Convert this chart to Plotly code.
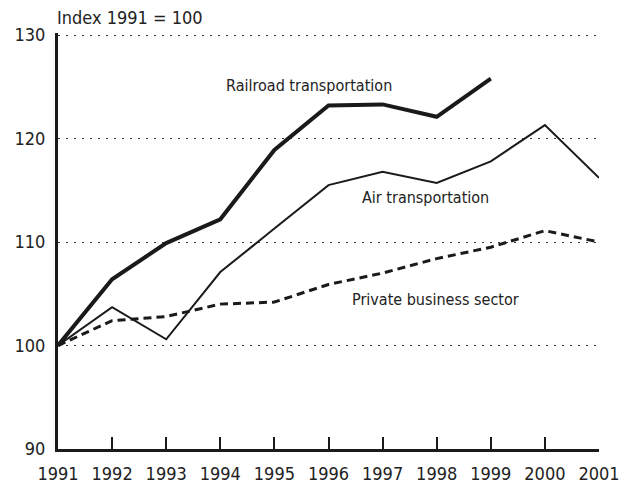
import plotly.graph_objects as go

years = [1991, 1992, 1993, 1994, 1995, 1996, 1997, 1998, 1999, 2000, 2001]
railroad = [100, 106.4, 109.9, 112.2, 118.9, 123.2, 123.3, 122.1, 125.8, None, None]
air = [100, 103.7, 100.6, 107.1, 111.3, 115.5, 116.8, 115.7, 117.8, 121.3, 116.2]
private = [100, 102.4, 102.8, 104.0, 104.2, 105.9, 107.0, 108.4, 109.5, 111.1, 110.0]
y_ticks = [90, 100, 110, 120, 130]

FONT = "DejaVu Sans Condensed, Liberation Sans Narrow, sans-serif"

fig = go.Figure()
fig.add_trace(go.Scatter(x=years, y=private, mode="lines",
                         line=dict(color="#1a1a1a", width=3, dash="8px,5px"),
                         showlegend=False))
fig.add_trace(go.Scatter(x=years, y=air, mode="lines",
                         line=dict(color="#1a1a1a", width=2), showlegend=False))
fig.add_trace(go.Scatter(x=years, y=railroad, mode="lines",
                         line=dict(color="#1a1a1a", width=4), showlegend=False))

ann = dict(showarrow=False, font=dict(family=FONT, size=16, color="#222"))
fig.add_annotation(x=1994.06, y=125.1, xref="x", yref="y", xanchor="left",
                   text="Railroad transportation", **ann)
fig.add_annotation(x=1996.59, y=114.3, xref="x", yref="y", xanchor="left",
                   text="Air transportation", **ann)
fig.add_annotation(x=1996.39, y=104.4, xref="x", yref="y", xanchor="left",
                   text="Private business sector", **ann)
fig.add_annotation(x=-0.005, y=1.038, xref="paper", yref="paper", xanchor="left",
                   yanchor="middle", text="Index 1991 = 100", showarrow=False,
                   font=dict(family=FONT, size=18, color="#222"))

fig.update_layout(
    width=621, height=476,
    margin=dict(l=50, r=30, t=25, b=35),
    paper_bgcolor="white", plot_bgcolor="white",
    font=dict(family=FONT, size=18, color="#222"),
    xaxis=dict(range=[1991, 2001], tickvals=years, ticktext=[str(y) for y in years],
               showgrid=False, zeroline=False, showline=True, linecolor="#1a1a1a",
               linewidth=3, ticks="inside", ticklen=12, tickwidth=1.5,
               tickcolor="#1a1a1a", ticklabelstandoff=6, automargin=False),
    yaxis=dict(range=[90, 130.2], tickvals=y_ticks, showgrid=True,
               gridcolor="#333", gridwidth=1, griddash="2px,6px",
               zeroline=False, showline=True, linecolor="#1a1a1a", linewidth=3,
               ticks="", ticklabelstandoff=6, automargin=False),
)
fig.write_html("out.html")
